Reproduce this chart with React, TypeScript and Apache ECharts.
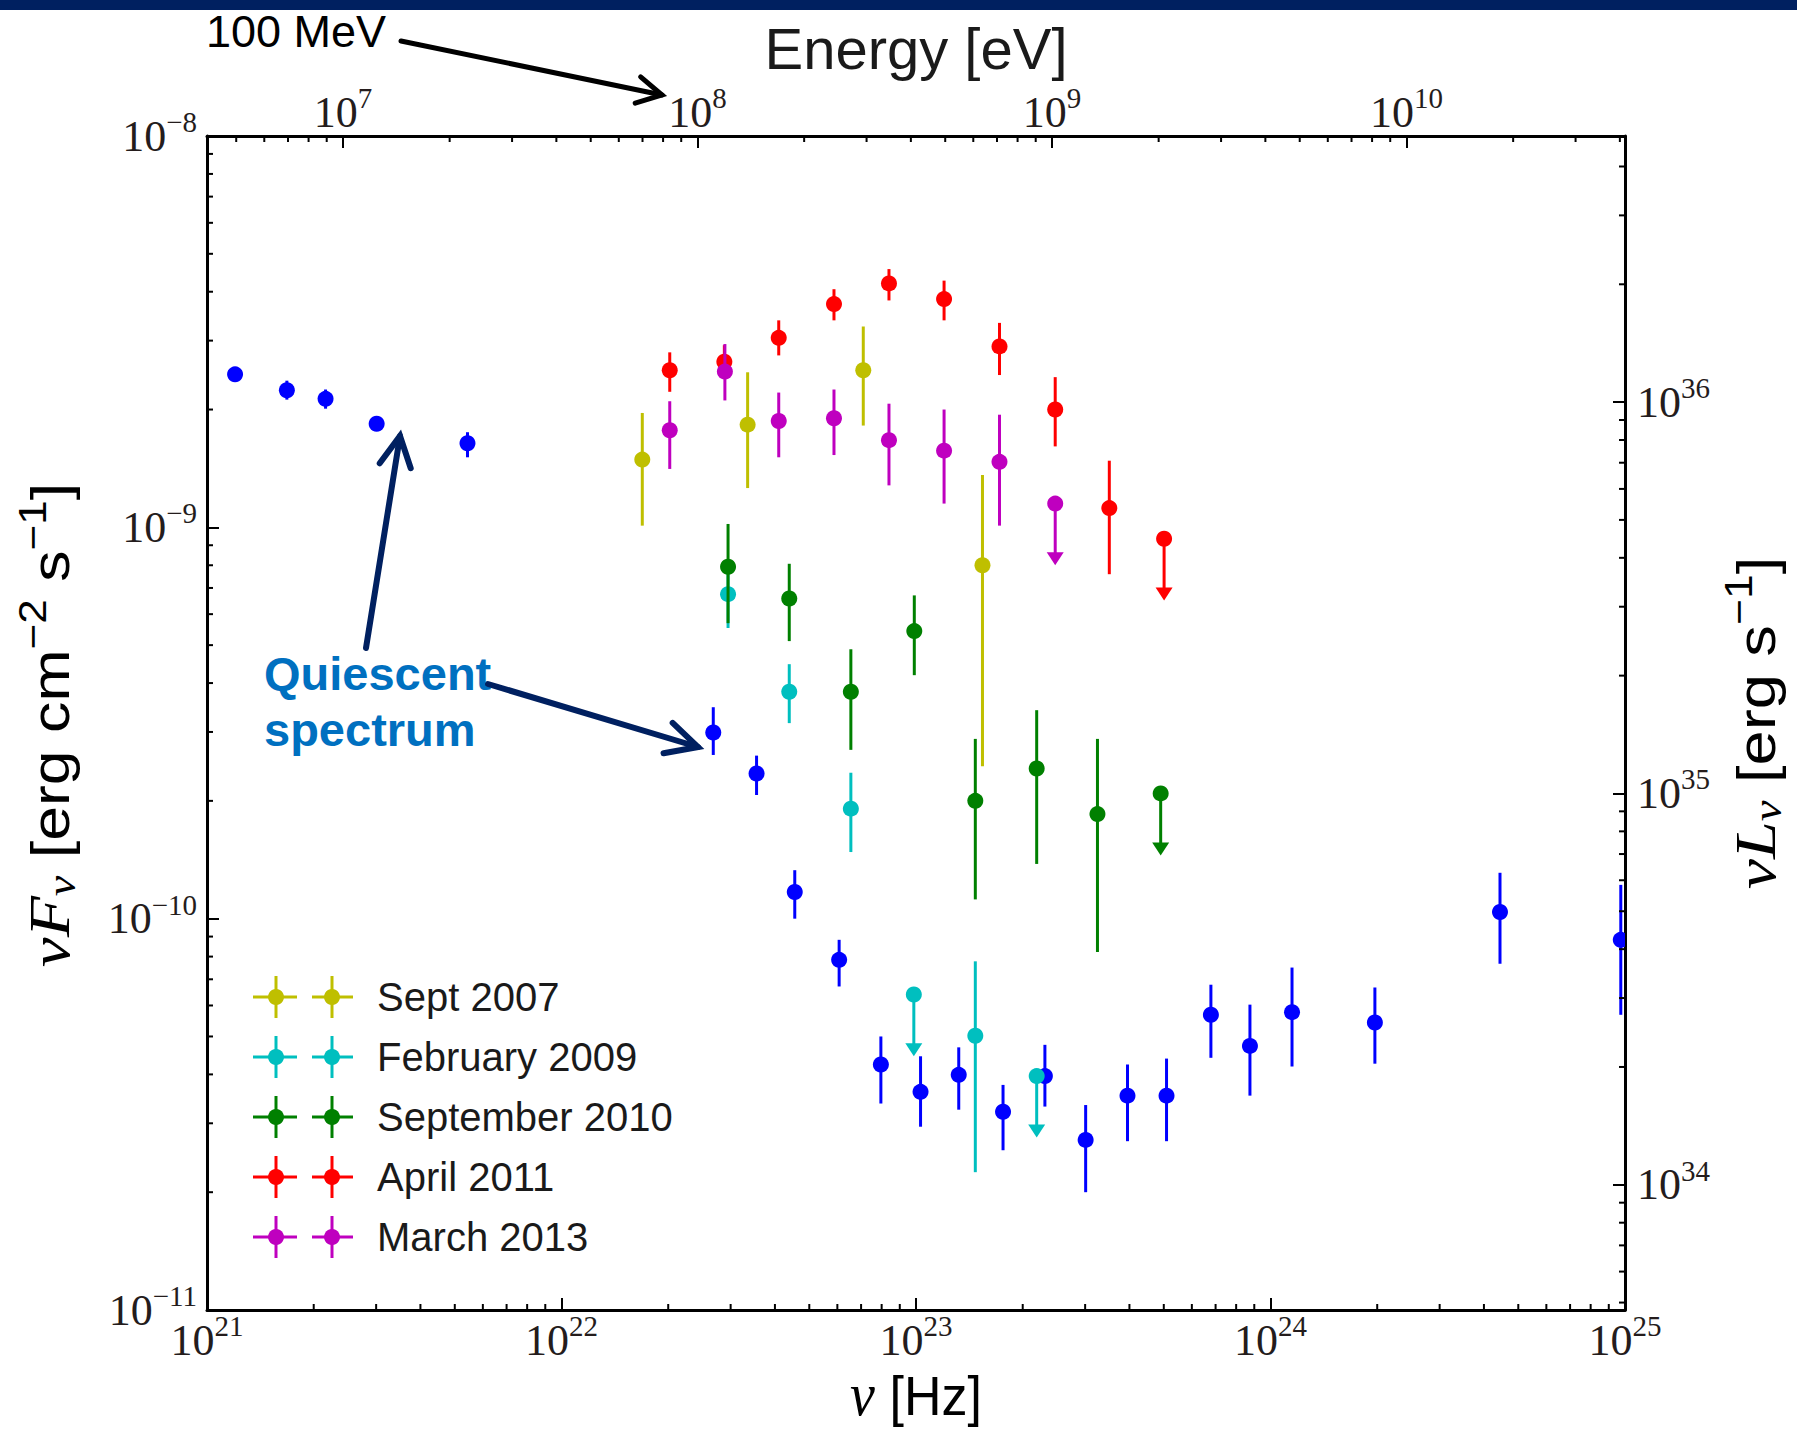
import React, { useEffect, useRef } from "react";
import * as echarts from "echarts";

// Conversion constants for the secondary axes
const PLANCK_EV_S = 4.135667e-15; // h [eV s]: photon energy = h * nu
const DISTANCE_CM = 2.0 * 3.0857e21; // 2 kpc
const LUMINOSITY_FACTOR = 4 * Math.PI * DISTANCE_CM * DISTANCE_CM; // nuL = 4 pi d^2 nuF

const FREQ_RANGE = [1e21, 1e25];
const FLUX_RANGE = [1e-11, 1e-8];

// Quiescent spectrum
const quiescentNu = [1.2e21, 1.68e21, 2.16e21, 3.01e21, 5.43e21, 2.68e22, 3.55e22, 4.55e22, 6.07e22, 7.96e22, 1.03e23, 1.32e23, 1.76e23, 2.31e23, 3.01e23, 3.95e23, 5.09e23, 6.79e23, 8.75e23, 1.15e24, 1.97e24, 4.44e24, 9.73e24];
const quiescentFlux = [2.46e-9, 2.24e-9, 2.13e-9, 1.84e-9, 1.64e-9, 2.99e-10, 2.35e-10, 1.17e-10, 7.85e-11, 4.24e-11, 3.61e-11, 3.99e-11, 3.21e-11, 3.96e-11, 2.72e-11, 3.53e-11, 3.53e-11, 5.68e-11, 4.73e-11, 5.77e-11, 5.43e-11, 1.04e-10, 8.83e-11];
const quiescentLow = [2.42e-9, 2.12e-9, 2.01e-9, 1.78e-9, 1.51e-9, 2.62e-10, 2.07e-10, 1.0e-10, 6.71e-11, 3.37e-11, 2.94e-11, 3.25e-11, 2.56e-11, 3.31e-11, 2.0e-11, 2.7e-11, 2.7e-11, 4.41e-11, 3.53e-11, 4.19e-11, 4.26e-11, 7.67e-11, 5.68e-11];
const quiescentHigh = [2.5e-9, 2.37e-9, 2.25e-9, 1.9e-9, 1.75e-9, 3.47e-10, 2.61e-10, 1.33e-10, 8.83e-11, 5.0e-11, 4.45e-11, 4.69e-11, 3.76e-11, 4.76e-11, 3.34e-11, 4.24e-11, 4.39e-11, 6.78e-11, 6.03e-11, 7.5e-11, 6.67e-11, 1.31e-10, 1.22e-10];
const quiescentUpperLimit = [0, 0, 0, 0, 0, 0, 0, 0, 0, 0, 0, 0, 0, 0, 0, 0, 0, 0, 0, 0, 0, 0, 0];

// Sept 2007 flare
const sept2007Nu = [1.69e22, 3.35e22, 7.1e22, 1.54e23];
const sept2007Flux = [1.49e-9, 1.83e-9, 2.52e-9, 8.0e-10];
const sept2007Low = [1.01e-9, 1.26e-9, 1.82e-9, 2.45e-10];
const sept2007High = [1.96e-9, 2.49e-9, 3.26e-9, 1.36e-9];
const sept2007UpperLimit = [0, 0, 0, 0];

// February 2009 flare
const feb2009Nu = [2.95e22, 4.39e22, 6.55e22, 9.86e22, 1.47e23, 2.19e23];
const feb2009Flux = [6.75e-10, 3.8e-10, 1.91e-10, 6.4e-11, 5.02e-11, 3.96e-11];
const feb2009Low = [5.53e-10, 3.16e-10, 1.48e-10, 4.45e-11, 2.25e-11, 2.76e-11];
const feb2009High = [8.28e-10, 4.47e-10, 2.36e-10, 6.4e-11, 7.78e-11, 3.96e-11];
const feb2009UpperLimit = [0, 0, 0, 1, 0, 1];

// September 2010 flare
const sept2010Nu = [2.95e22, 4.39e22, 6.55e22, 9.89e22, 1.47e23, 2.19e23, 3.25e23, 4.9e23];
const sept2010Flux = [7.93e-10, 6.58e-10, 3.8e-10, 5.43e-10, 2.0e-10, 2.42e-10, 1.85e-10, 2.09e-10];
const sept2010Low = [5.69e-10, 5.12e-10, 2.7e-10, 4.19e-10, 1.12e-10, 1.38e-10, 8.22e-11, 1.45e-10];
const sept2010High = [1.02e-9, 8.07e-10, 4.88e-10, 6.7e-10, 2.88e-10, 3.41e-10, 2.88e-10, 2.09e-10];
const sept2010UpperLimit = [0, 0, 0, 0, 0, 0, 0, 1];

// April 2011 flare
const apr2011Nu = [2.02e22, 2.88e22, 4.1e22, 5.87e22, 8.39e22, 1.2e23, 1.72e23, 2.47e23, 3.51e23, 5.01e23];
const apr2011Flux = [2.52e-9, 2.65e-9, 3.05e-9, 3.72e-9, 4.2e-9, 3.83e-9, 2.9e-9, 2.0e-9, 1.12e-9, 9.35e-10];
const apr2011Low = [2.22e-9, 2.43e-9, 2.75e-9, 3.38e-9, 3.8e-9, 3.38e-9, 2.45e-9, 1.61e-9, 7.59e-10, 6.5e-10];
const apr2011High = [2.8e-9, 2.92e-9, 3.38e-9, 4.06e-9, 4.57e-9, 4.27e-9, 3.33e-9, 2.42e-9, 1.48e-9, 9.35e-10];
const apr2011UpperLimit = [0, 0, 0, 0, 0, 0, 0, 0, 0, 1];

// March 2013 flare
const mar2013Nu = [2.02e22, 2.89e22, 4.1e22, 5.87e22, 8.39e22, 1.2e23, 1.72e23, 2.47e23];
const mar2013Flux = [1.77e-9, 2.5e-9, 1.87e-9, 1.9e-9, 1.67e-9, 1.57e-9, 1.47e-9, 1.15e-9];
const mar2013Low = [1.41e-9, 2.11e-9, 1.51e-9, 1.53e-9, 1.28e-9, 1.15e-9, 1.01e-9, 8.0e-10];
const mar2013High = [2.1e-9, 2.94e-9, 2.21e-9, 2.25e-9, 2.07e-9, 2.0e-9, 1.94e-9, 1.15e-9];
const mar2013UpperLimit = [0, 0, 0, 0, 0, 0, 0, 1];

const legendNames = ["Sept 2007", "February 2009", "September 2010", "April 2011", "March 2013"];
const legendColors = ["#bfbf00", "#00bfbf", "#008000", "#ff0000", "#bf00bf"];
const quiescentColor = "#0000ff";

const datasets = [
  { name: "Quiescent", color: quiescentColor, nu: quiescentNu, flux: quiescentFlux, low: quiescentLow, high: quiescentHigh, ul: quiescentUpperLimit },
  { name: legendNames[0], color: legendColors[0], nu: sept2007Nu, flux: sept2007Flux, low: sept2007Low, high: sept2007High, ul: sept2007UpperLimit },
  { name: legendNames[1], color: legendColors[1], nu: feb2009Nu, flux: feb2009Flux, low: feb2009Low, high: feb2009High, ul: feb2009UpperLimit },
  { name: legendNames[2], color: legendColors[2], nu: sept2010Nu, flux: sept2010Flux, low: sept2010Low, high: sept2010High, ul: sept2010UpperLimit },
  { name: legendNames[3], color: legendColors[3], nu: apr2011Nu, flux: apr2011Flux, low: apr2011Low, high: apr2011High, ul: apr2011UpperLimit },
  { name: legendNames[4], color: legendColors[4], nu: mar2013Nu, flux: mar2013Flux, low: mar2013Low, high: mar2013High, ul: mar2013UpperLimit },
];

const SERIF = "'Liberation Serif', 'DejaVu Serif', serif";
const SANS = "'Liberation Sans', Arial, 'DejaVu Sans', sans-serif";
const TICK_COLOR = "#241c1c";
const NAVY = "#002060";

const GRID = { left: 207, top: 136, right: 1625, bottom: 1310 };

// "10^n" labels for log axes; anything that is not a whole power is left blank
function powerLabel(v: number): string {
  const e = Math.log10(v);
  const r = Math.round(e);
  if (Math.abs(e - r) > 1e-6) return "";
  const s = r < 0 ? "\u2212" + Math.abs(r) : String(r);
  return `{b|10}{s|${s}}`;
}

const powerRich = {
  b: { fontFamily: SERIF, fontSize: 44, lineHeight: 44, color: TICK_COLOR },
  s: { fontFamily: SERIF, fontSize: 29, lineHeight: 29, padding: [0, 0, 28, 0], color: TICK_COLOR },
};

function minorValues(lo: number, hi: number): number[] {
  const out: number[] = [];
  for (let d = Math.floor(Math.log10(lo)); d <= Math.ceil(Math.log10(hi)); d++) {
    for (let m = 2; m <= 9; m++) {
      const v = m * Math.pow(10, d);
      if (v > lo * 1.0001 && v < hi * 0.9999) out.push(v);
    }
  }
  return out;
}

function logAxis(extra: any) {
  return {
    type: "log",
    logBase: 10,
    splitLine: { show: false },
    axisLine: { show: true, onZero: false, lineStyle: { color: "#000", width: 3 } },
    axisTick: { show: true, inside: true, length: 12, lineStyle: { color: "#000", width: 2 } },
    ...extra,
  };
}

function minorTickSeries(xAxisIndex: number, yAxisIndex: number, data: number[][], dir: number[]) {
  return {
    type: "custom",
    xAxisIndex,
    yAxisIndex,
    silent: true,
    z: 6,
    data,
    encode: { x: 0, y: 1 },
    renderItem: (_params: any, api: any) => {
      const p = api.coord([api.value(0), api.value(1)]);
      return {
        type: "line",
        shape: { x1: p[0], y1: p[1], x2: p[0] + dir[0] * 6, y2: p[1] + dir[1] * 6 },
        style: { stroke: "#000", lineWidth: 2 },
      };
    },
  };
}

function errorSeries(ds: any) {
  const color = ds.color;
  return {
    type: "custom",
    name: ds.name,
    xAxisIndex: 0,
    yAxisIndex: 0,
    clip: true,
    z: 3,
    encode: { x: 0, y: 1 },
    data: ds.nu.map((v: number, i: number) => [v, ds.flux[i], ds.low[i], ds.high[i], ds.ul[i]]),
    renderItem: (_params: any, api: any) => {
      const nu = api.value(0);
      const c = api.coord([nu, api.value(1)]);
      const lo = api.coord([nu, api.value(2)]);
      const hi = api.coord([nu, api.value(3)]);
      const isLimit = api.value(4) === 1;
      const children: any[] = [
        {
          type: "line",
          shape: { x1: c[0], y1: hi[1], x2: c[0], y2: isLimit ? lo[1] - 8 : lo[1] },
          style: { stroke: color, lineWidth: 3 },
        },
      ];
      if (isLimit) {
        children.push({
          type: "polygon",
          shape: { points: [[c[0] - 8.5, lo[1] - 13], [c[0] + 8.5, lo[1] - 13], [c[0], lo[1]]] },
          style: { fill: color },
        });
      }
      children.push({ type: "circle", shape: { cx: c[0], cy: c[1], r: 8 }, style: { fill: color } });
      return { type: "group", children };
    },
  };
}

// Straight arrow with an open V head
function arrow(x1: number, y1: number, x2: number, y2: number, color: string, width: number, head: number, spread: number) {
  const ang = Math.atan2(y1 - y2, x1 - x2);
  const a1 = [x2 + head * Math.cos(ang + spread), y2 + head * Math.sin(ang + spread)];
  const a2 = [x2 + head * Math.cos(ang - spread), y2 + head * Math.sin(ang - spread)];
  return [
    { type: "line", shape: { x1, y1, x2, y2 }, style: { stroke: color, lineWidth: width, lineCap: "round" }, z: 20 },
    {
      type: "polyline",
      shape: { points: [a1, [x2, y2], a2] },
      style: { stroke: color, lineWidth: width, lineCap: "round", lineJoin: "miter", fill: null },
      z: 20,
    },
  ];
}

function legendGraphic() {
  const rows = [997, 1057, 1117, 1177, 1237];
  const children: any[] = [];
  legendNames.forEach((name, i) => {
    const y = rows[i];
    const color = legendColors[i];
    [[253, 297, 276], [312, 353, 332]].forEach(([xa, xb, xc]) => {
      children.push({ type: "line", shape: { x1: xa, y1: y, x2: xb, y2: y }, style: { stroke: color, lineWidth: 3 } });
      children.push({ type: "line", shape: { x1: xc, y1: y - 21, x2: xc, y2: y + 21 }, style: { stroke: color, lineWidth: 3 } });
      children.push({ type: "circle", shape: { cx: xc, cy: y, r: 8 }, style: { fill: color } });
    });
    children.push({
      type: "text",
      x: 377,
      y,
      style: { text: name, fontFamily: SANS, fontSize: 40, fill: "#1a1a1a", align: "left", verticalAlign: "middle" },
    });
  });
  return { type: "group", z: 10, children };
}

const labelRich = {
  m: { fontFamily: SERIF, fontStyle: "italic", fontSize: 58, lineHeight: 58, color: "#1a1a1a" },
  sub: { fontFamily: SERIF, fontStyle: "italic", fontSize: 40, lineHeight: 40, padding: [22, 0, 0, 0], color: "#1a1a1a" },
  t: { fontFamily: SANS, fontSize: 54, lineHeight: 58, color: "#1a1a1a" },
  sup: { fontFamily: SANS, fontSize: 38, lineHeight: 38, padding: [0, 0, 34, 0], color: "#1a1a1a" },
};

export default function App() {
  const ref = useRef<HTMLDivElement>(null);

  useEffect(() => {
    if (!ref.current) return;
    const chart = echarts.init(ref.current, undefined, { renderer: "svg" });

    const energyRange = [FREQ_RANGE[0] * PLANCK_EV_S, FREQ_RANGE[1] * PLANCK_EV_S];
    const lumRange = [FLUX_RANGE[0] * LUMINOSITY_FACTOR, FLUX_RANGE[1] * LUMINOSITY_FACTOR];

    const bottomMinor = minorValues(FREQ_RANGE[0], FREQ_RANGE[1]).map((v) => [v, FLUX_RANGE[0]]);
    const leftMinor = minorValues(FLUX_RANGE[0], FLUX_RANGE[1]).map((v) => [FREQ_RANGE[0], v]);
    const topMinor = minorValues(energyRange[0], energyRange[1]).map((v) => [v, FLUX_RANGE[1]]);
    const rightMinor = minorValues(lumRange[0], lumRange[1]).map((v) => [FREQ_RANGE[1], v]);

    const option: any = {
      animation: false,
      backgroundColor: "#ffffff",
      grid: {
        left: GRID.left,
        top: GRID.top,
        width: GRID.right - GRID.left,
        height: GRID.bottom - GRID.top,
        containLabel: false,
      },
      xAxis: [
        logAxis({
          position: "bottom",
          min: FREQ_RANGE[0],
          max: FREQ_RANGE[1],
          axisLabel: { formatter: powerLabel, rich: powerRich, margin: 8, showMinLabel: true, showMaxLabel: true },
        }),
        logAxis({
          position: "top",
          min: energyRange[0],
          max: energyRange[1],
          axisLabel: { formatter: powerLabel, rich: powerRich, margin: 2, showMinLabel: false, showMaxLabel: false },
        }),
      ],
      yAxis: [
        logAxis({
          position: "left",
          min: FLUX_RANGE[0],
          max: FLUX_RANGE[1],
          axisLabel: { formatter: powerLabel, rich: powerRich, margin: 10, showMinLabel: true, showMaxLabel: true },
        }),
        logAxis({
          position: "right",
          min: lumRange[0],
          max: lumRange[1],
          axisLabel: { formatter: powerLabel, rich: powerRich, margin: 12, showMinLabel: false, showMaxLabel: false },
        }),
      ],
      series: [
        ...datasets.map(errorSeries),
        minorTickSeries(0, 0, bottomMinor, [0, -1]),
        minorTickSeries(0, 0, leftMinor, [1, 0]),
        minorTickSeries(1, 0, topMinor, [0, 1]),
        minorTickSeries(0, 1, rightMinor, [-1, 0]),
      ],
      graphic: [
        { type: "rect", shape: { x: 0, y: 0, width: 1797, height: 10 }, style: { fill: NAVY }, z: 30 },
        {
          type: "text",
          x: 206,
          y: 31,
          style: { text: "100 MeV", fontFamily: SANS, fontSize: 45, fill: "#000", align: "left", verticalAlign: "middle" },
          z: 20,
        },
        ...arrow(401, 41, 662, 95, "#000", 5, 28, 0.5),
        {
          type: "text",
          x: 916,
          y: 48,
          style: { text: "Energy [eV]", fontFamily: SANS, fontSize: 58, fill: "#1a1a1a", align: "center", verticalAlign: "middle" },
        },
        {
          type: "text",
          x: 916,
          y: 1395,
          scaleY: 1.08,
          style: {
            text: "{m|\u03bd}{t| [Hz]}",
            rich: { m: { ...labelRich.m, fontSize: 56, lineHeight: 56 }, t: { ...labelRich.t, fontSize: 52, lineHeight: 56 } },
            align: "center",
            verticalAlign: "middle",
          },
        },
        {
          type: "text",
          x: 50,
          y: 725,
          rotation: Math.PI / 2,
          scaleX: 1.16,
          style: {
            text: "{m|\u03bdF}{sub|\u03bd}{t| [erg cm}{sup|\u22122}{t| s}{sup|\u22121}{t|]}",
            rich: labelRich,
            align: "center",
            verticalAlign: "middle",
          },
        },
        {
          type: "text",
          x: 1756,
          y: 723,
          rotation: Math.PI / 2,
          scaleX: 1.17,
          style: {
            text: "{m|\u03bdL}{sub|\u03bd}{t| [erg s}{sup|\u22121}{t|]}",
            rich: labelRich,
            align: "center",
            verticalAlign: "middle",
          },
        },
        {
          type: "text",
          x: 264,
          y: 673,
          style: { text: "Quiescent", fontFamily: SANS, fontSize: 47, fontWeight: "bold", fill: "#0070c0", align: "left", verticalAlign: "middle" },
          z: 15,
        },
        {
          type: "text",
          x: 264,
          y: 729,
          style: { text: "spectrum", fontFamily: SANS, fontSize: 47, fontWeight: "bold", fill: "#0070c0", align: "left", verticalAlign: "middle" },
          z: 15,
        },
        ...arrow(366, 648, 400, 436, NAVY, 6, 34, 0.48),
        ...arrow(488, 684, 698, 747, NAVY, 6, 35, 0.47),
        legendGraphic(),
      ],
    };

    chart.setOption(option);
    return () => chart.dispose();
  }, []);

  return <div ref={ref} style={{ position: "absolute", left: 0, top: 0, width: 1797, height: 1429, background: "#fff" }} />;
}
